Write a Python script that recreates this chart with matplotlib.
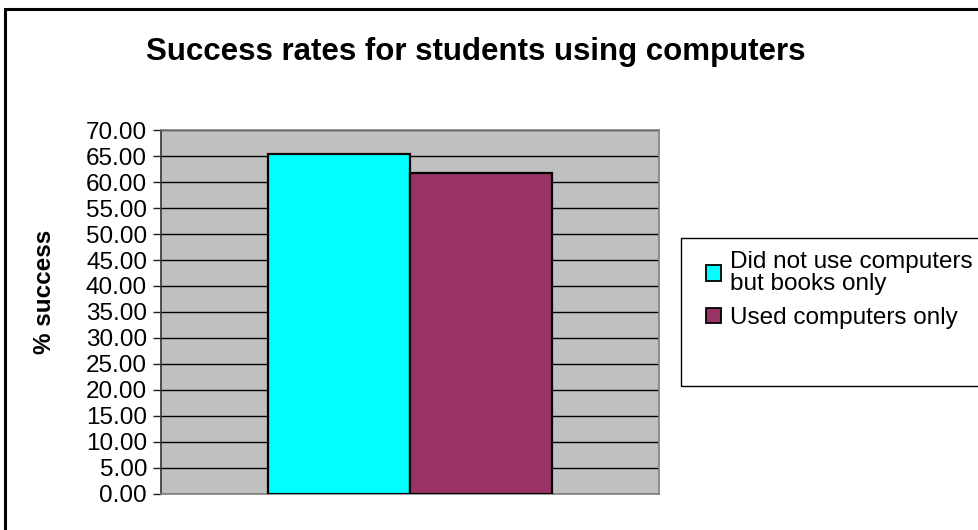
import matplotlib
matplotlib.use("Agg")
import matplotlib.pyplot as plt
from matplotlib.patches import Rectangle
import numpy as np

plt.rcParams['font.family'] = ['Liberation Sans', 'DejaVu Sans']

# data
groups = ["Did not use computers\nbut books only", "Used computers only"]
success = [65.4, 61.8]
colors = ["#00FFFF", "#993366"]
yticks = np.arange(0, 75, 5)

W, H = 979, 530
fig = plt.figure(figsize=(W / 100, H / 100), dpi=100)

# outer chart border (cut off on right/bottom like the original)
fig.patches.append(Rectangle((5 / W, -0.1), 2.0, 1 - 9 / H + 0.1, transform=fig.transFigure,
                             fill=False, edgecolor="black", linewidth=2.2))

ax = fig.add_axes([161 / W, 1 - 494 / H, 498 / W, 364 / H])
ax.set_facecolor("#C0C0C0")

width = 0.57
xpos = [-width / 2, width / 2]
for x, v, c, g in zip(xpos, success, colors, groups):
    ax.bar(x, v, width=width, color=c, edgecolor="black", linewidth=1.6, label=g, zorder=3)

ax.set_xlim(-1, 1)
ax.set_ylim(0, 70)
ax.set_yticks(yticks)
ax.set_yticklabels([f"{t:.2f}" for t in yticks], fontsize=17.5)
ax.set_xticks([])
ax.yaxis.grid(True, color="black", linewidth=1.0, zorder=1)
ax.set_axisbelow(True)
ax.tick_params(axis="y", direction="out", length=6, width=1, color="#222222", pad=4)

for s in ["top", "right", "bottom"]:
    ax.spines[s].set_color("#808080")
    ax.spines[s].set_linewidth(1.2)
ax.spines["left"].set_color("#333333")
ax.spines["left"].set_linewidth(1.2)

fig.text(476 / W, 1 - 52 / H, "Success rates for students using computers",
         fontsize=22.5, fontweight="bold", ha="center", va="center")
fig.text(45 / W, 1 - 292 / H, "% success", fontsize=17.5, fontweight="bold",
         rotation=90, ha="center", va="center")

# legend box
fig.patches.append(Rectangle((681 / W, 1 - 386 / H), 1.0, 148 / H, transform=fig.transFigure,
                             fill=False, edgecolor="black", linewidth=1.0))
leg = fig.legend(loc="upper left", bbox_to_anchor=(706 / W, 1 - 251 / H), frameon=False,
                 fontsize=17.5, handlelength=0.6, handleheight=0.6, handletextpad=0.4,
                 labelspacing=0.5, borderaxespad=0, borderpad=0)
for h in leg.legend_handles:
    h.set_linewidth(1.3)
for t in leg.get_texts():
    t.set_linespacing(1.0)

fig.savefig("out.png", dpi=100)
